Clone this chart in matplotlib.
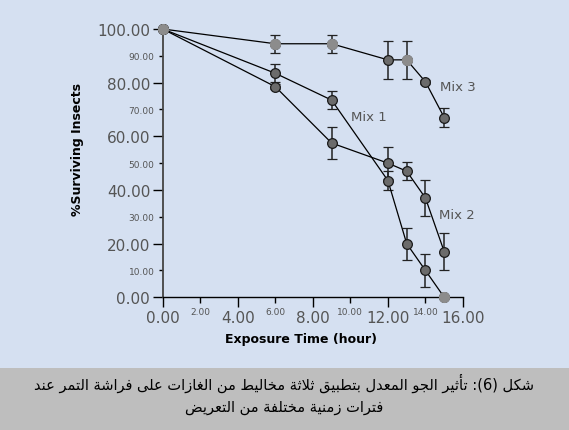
import matplotlib
matplotlib.use("Agg")
import matplotlib.pyplot as plt
from matplotlib.patches import Rectangle

# data
hours = [0, 6, 9, 12, 13, 14, 15]
mix1 = [100, 83.5, 73.5, 43.5, 20, 10, 0]
mix1_err = [0, 3.3, 3.4, 3.4, 6, 6, 0]
mix2 = [100, 78.5, 57.5, 50, 47, 37, 17]
mix2_err = [0, 1, 5.8, 6, 3.4, 6.8, 7]
mix3 = [100, 94.5, 94.5, 88.5, 88.5, 80.3, 67]
mix3_err = [0, 3.4, 3.4, 7, 7, 0.8, 3.5]

x_major = [0, 4, 8, 12, 16]
x_minor = [2, 6, 10, 14]
y_major = [0, 20, 40, 60, 80, 100]
y_minor = [10, 30, 50, 70, 90]

caption_1 = "شكل (6): تأثير الجو المعدل بتطبيق ثلاثة مخاليط من الغازات على فراشة التمر عند"
caption_2 = "فترات زمنية مختلفة من التعريض"

# arabic letter -> (first presentation form, number of forms)
AR_FORMS = {
    'ء': (0xFE80, 1), 'آ': (0xFE81, 2), 'أ': (0xFE83, 2), 'ؤ': (0xFE85, 2),
    'إ': (0xFE87, 2), 'ئ': (0xFE89, 4), 'ا': (0xFE8D, 2), 'ب': (0xFE8F, 4),
    'ة': (0xFE93, 2), 'ت': (0xFE95, 4), 'ث': (0xFE99, 4), 'ج': (0xFE9D, 4),
    'ح': (0xFEA1, 4), 'خ': (0xFEA5, 4), 'د': (0xFEA9, 2), 'ذ': (0xFEAB, 2),
    'ر': (0xFEAD, 2), 'ز': (0xFEAF, 2), 'س': (0xFEB1, 4), 'ش': (0xFEB5, 4),
    'ص': (0xFEB9, 4), 'ض': (0xFEBD, 4), 'ط': (0xFEC1, 4), 'ظ': (0xFEC5, 4),
    'ع': (0xFEC9, 4), 'غ': (0xFECD, 4), 'ف': (0xFED1, 4), 'ق': (0xFED5, 4),
    'ك': (0xFED9, 4), 'ل': (0xFEDD, 4), 'م': (0xFEE1, 4), 'ن': (0xFEE5, 4),
    'ه': (0xFEE9, 4), 'و': (0xFEED, 2), 'ى': (0xFEEF, 2), 'ي': (0xFEF1, 4),
}
LAM_ALEF = {'آ': 0xFEF5, 'أ': 0xFEF7, 'إ': 0xFEF9, 'ا': 0xFEFB}


def shape_arabic(text):
    # matplotlib does no arabic shaping, so pick the joined forms by hand
    out = []
    i = 0
    prev_joins = False
    while i < len(text):
        c = text[i]
        nxt = text[i + 1] if i + 1 < len(text) else ''
        if c not in AR_FORMS:
            out.append(c)
            prev_joins = False
            i += 1
            continue
        if c == 'ل' and nxt in LAM_ALEF:
            out.append(chr(LAM_ALEF[nxt] + (1 if prev_joins else 0)))
            prev_joins = False
            i += 2
            continue
        base, n = AR_FORMS[c]
        joins_next = n == 4 and nxt in AR_FORMS
        if n == 1:
            form = 0
        elif joins_next:
            form = 3 if prev_joins else 2
        else:
            form = 1 if prev_joins else 0
        out.append(chr(base + form))
        prev_joins = joins_next
        i += 1
    mirror = {'(': ')', ')': '('}
    return ''.join(mirror.get(c, c) for c in reversed(out))


bg = '#d5e0f1'
fig = plt.figure(figsize=(5.69, 4.31), dpi=100, facecolor=bg)
fig.patches.append(Rectangle((0, 0), 1, 62 / 431, transform=fig.transFigure,
                             facecolor='#bebebe', edgecolor='none', zorder=0))

ax = fig.add_axes([162.7 / 569, 1 - 298.3 / 431, 300.3 / 569, 268.3 / 431])
ax.set_facecolor(bg)

series = [(mix1, mix1_err), (mix2, mix2_err), (mix3, mix3_err)]
for vals, err in series:
    ax.errorbar(hours, vals, yerr=err, color='black', lw=0.9, ecolor='#222222',
                elinewidth=1.1, capsize=3.5, capthick=1.1, marker='o', ms=7,
                mfc='#6b6b6b', mec='#1a1a1a', mew=0.9, clip_on=False, zorder=3)

# lighter points without outline
light = [(hours[0], mix1[0]), (hours[1], mix3[1]), (hours[2], mix3[2]),
         (hours[4], mix3[4]), (hours[6], mix1[6])]
for px, py in light:
    ax.plot(px, py, 'o', ms=7, mfc='#8c8c8c', mec='#8c8c8c', clip_on=False, zorder=4)

ax.text(10.05, 67.5, 'Mix 1', fontsize=9.5, color='#555555', va='center')
ax.text(14.7, 31, 'Mix 2', fontsize=9.5, color='#555555', va='center')
ax.text(14.8, 78.4, 'Mix 3', fontsize=9.5, color='#555555', va='center')

ax.set_xlim(0, 16)
ax.set_ylim(0, 100)
for s in ['top', 'right']:
    ax.spines[s].set_visible(False)
ax.spines['left'].set_color('#444444')
ax.spines['left'].set_linewidth(1.3)
ax.spines['bottom'].set_color('black')
ax.spines['bottom'].set_linewidth(1.0)

ax.set_xticks(x_major)
ax.set_xticklabels(['%.2f' % v for v in x_major])
ax.set_xticks(x_minor, minor=True)
ax.set_xticklabels(['%.2f' % v for v in x_minor], minor=True)
ax.set_yticks(y_major)
ax.set_yticklabels(['%.2f' % v for v in y_major])
ax.set_yticks(y_minor, minor=True)
ax.set_yticklabels(['%.2f' % v for v in y_minor], minor=True)

ax.tick_params(which='major', length=7, width=1, labelsize=11, labelcolor='#555555', pad=2)
ax.tick_params(which='minor', length=4, width=1, labelsize=6.5, labelcolor='#555555', pad=3)
ax.tick_params(axis='y', which='minor', length=3)

fig.text(78 / 569, 1 - 150 / 431, '%Surviving Insects', rotation=90, fontsize=9,
         fontweight='bold', ha='center', va='center')
fig.text(301 / 569, 1 - 340 / 431, 'Exposure Time (hour)', fontsize=9,
         fontweight='bold', ha='center', va='center')

fig.text(0.5, 1 - 383 / 431, shape_arabic(caption_1), fontsize=10.5,
         family='DejaVu Sans', ha='center', va='center')
fig.text(0.5, 1 - 408 / 431, shape_arabic(caption_2), fontsize=10.5,
         family='DejaVu Sans', ha='center', va='center')

fig.savefig('out.png', dpi=100, facecolor=bg)
